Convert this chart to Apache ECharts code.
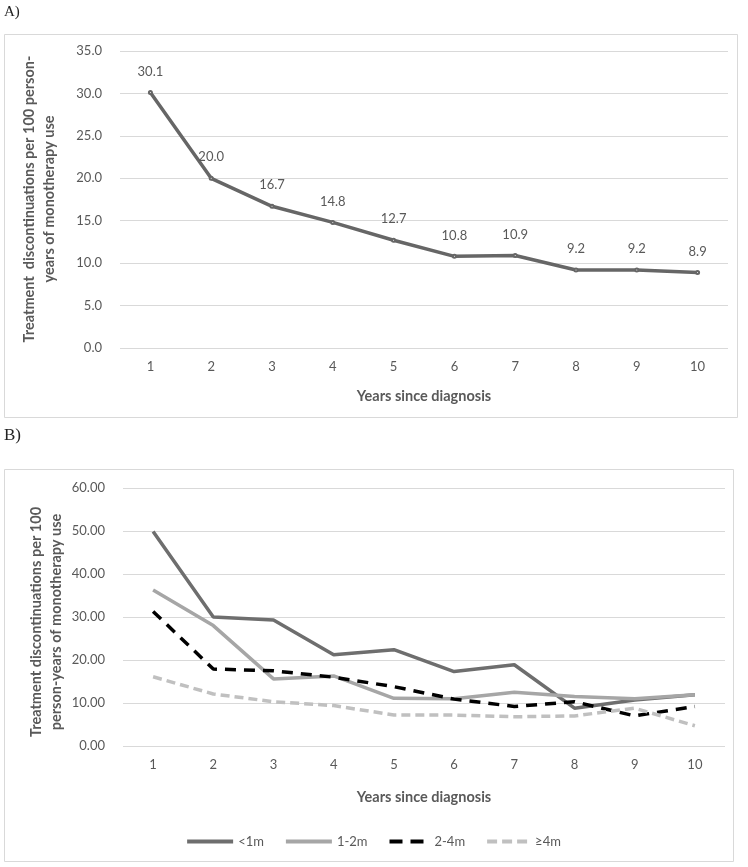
<!DOCTYPE html>
<html>
<head>
<meta charset="utf-8">
<script src="https://cdn.jsdelivr.net/npm/echarts@6/dist/echarts.min.js"></script>
<style>
html,body{margin:0;padding:0;background:#fff;}
#c{width:748px;height:867px;}
</style>
</head>
<body>
<div id="c"></div>
<script>
var years = ['1','2','3','4','5','6','7','8','9','10'];
var overallRate = [30.1, 20.0, 16.7, 14.8, 12.7, 10.8, 10.9, 9.2, 9.2, 8.9];
var seriesNames = ['<1m', '1-2m', '2-4m', '\u22654m'];
var lt1m = [49.9, 30.0, 29.3, 21.2, 22.4, 17.3, 18.9, 8.8, 10.7, 11.9];
var m1to2 = [36.3, 28.0, 15.6, 16.3, 11.1, 11.0, 12.5, 11.5, 11.0, 11.9];
var m2to4 = [31.3, 17.9, 17.5, 16.0, 13.8, 10.9, 9.2, 10.3, 7.0, 9.2];
var ge4m = [16.1, 12.1, 10.3, 9.4, 7.2, 7.2, 6.8, 7.0, 8.8, 4.7];
var yTicksA = [0, 35, 5];
var yTicksB = [0, 60, 10];
var yNameA = ['Treatment  discontinuations per 100 person-', 'years of monotherapy use'];
var yNameB = ['Treatment discontinuations per 100', 'person-years of monotherapy use'];

var FONT = 'Lato';
var grey = '#595959';
var chart = echarts.init(document.getElementById('c'), null, {renderer: 'canvas'});

var ICON_SOLID = 'path://M0,0H46V4H0Z';
var ICON_DASH_LONG = 'path://M0,0H13V4H0Z M21,0H34V4H21Z';
var ICON_DASH_SHORT = 'path://M0,0H10V4H0Z M15,0H25V4H15Z M30,0H40V4H30Z';

function xAxisCfg(gridIndex, gap) {
  return {
    type: 'category', gridIndex: gridIndex, data: years, boundaryGap: true,
    axisLine: {show: false}, axisTick: {show: false},
    axisLabel: {color: grey, fontFamily: FONT, fontSize: 13, margin: 12},
    name: 'Years since diagnosis', nameLocation: 'middle', nameGap: gap,
    nameTextStyle: {color: grey, fontFamily: FONT, fontSize: 14.5, fontWeight: 'bold'}
  };
}
function yAxisCfg(gridIndex, t, dec) {
  return {
    type: 'value', gridIndex: gridIndex, min: t[0], max: t[1], interval: t[2],
    axisLine: {show: false}, axisTick: {show: false},
    axisLabel: {color: grey, fontFamily: FONT, fontSize: 13, margin: 18,
      formatter: function (v) { return v.toFixed(dec); }},
    splitLine: {lineStyle: {color: '#d9d9d9', width: 1}}
  };
}
function yNameText(lines, cx, cy) {
  return {
    type: 'text', x: cx, y: cy, rotation: Math.PI / 2,
    style: {
      text: lines.join('\n'), fill: grey, fontFamily: FONT, fontSize: 14.5, fontWeight: 'bold',
      lineHeight: 20, align: 'center', verticalAlign: 'middle'
    }
  };
}
function lineSeries(name, data, color, dash, idx) {
  return {
    name: name, type: 'line', xAxisIndex: idx, yAxisIndex: idx, data: data,
    symbol: 'none', smooth: false,
    lineStyle: {color: color, width: 3.5, type: dash ? dash : 'solid', cap: 'butt'},
    itemStyle: {color: color}
  };
}

chart.setOption({
  animation: false,
  backgroundColor: '#ffffff',
  graphic: [
    {type: 'rect', shape: {x: 4.5, y: 34.5, width: 733, height: 383}, style: {fill: 'none', stroke: '#d9d9d9', lineWidth: 1}},
    {type: 'rect', shape: {x: 4.5, y: 469.5, width: 729, height: 392}, style: {fill: 'none', stroke: '#d9d9d9', lineWidth: 1}},
    {type: 'text', left: 4, top: 5, style: {text: 'A)', font: '15px "Liberation Serif"', fill: '#222'}},
    {type: 'text', left: 4, top: 427, style: {text: 'B)', font: '17px "Liberation Serif"', fill: '#222'}},
    yNameText(yNameA, 39, 199),
    yNameText(yNameB, 46, 622)
  ],
  grid: [
    {left: 120, right: 20, top: 51, bottom: 867 - 348},
    {left: 123, right: 23, top: 488, bottom: 867 - 746}
  ],
  xAxis: [xAxisCfg(0, 41), xAxisCfg(1, 44)],
  yAxis: [yAxisCfg(0, yTicksA, 1), yAxisCfg(1, yTicksB, 2)],
  legend: {
    show: true,
    data: [
      {name: seriesNames[0], icon: ICON_SOLID},
      {name: seriesNames[1], icon: ICON_SOLID},
      {name: seriesNames[2], icon: ICON_DASH_LONG},
      {name: seriesNames[3], icon: ICON_DASH_SHORT}
    ],
    left: 'center', top: 830, itemWidth: 46, itemHeight: 4, itemGap: 22,
    itemStyle: {borderWidth: 0},
    lineStyle: {width: 0, opacity: 0},
    textStyle: {color: grey, fontFamily: FONT, fontSize: 13}
  },
  series: [
    {
      name: 'overall', type: 'line', xAxisIndex: 0, yAxisIndex: 0, data: overallRate,
      symbol: 'emptyCircle', symbolSize: 3,
      lineStyle: {color: '#666666', width: 3.5},
      itemStyle: {color: '#666666'},
      label: {show: true, position: 'top', distance: 12, color: grey, fontFamily: FONT, fontSize: 13,
        formatter: function (p) { return p.value.toFixed(1); }}
    },
    lineSeries(seriesNames[0], lt1m, '#6e6e6e', null, 1),
    lineSeries(seriesNames[1], m1to2, '#a6a6a6', null, 1),
    lineSeries(seriesNames[2], m2to4, '#000000', [11, 8], 1),
    lineSeries(seriesNames[3], ge4m, '#c0c0c0', [9, 5], 1)
  ]
});
</script>
</body>
</html>
